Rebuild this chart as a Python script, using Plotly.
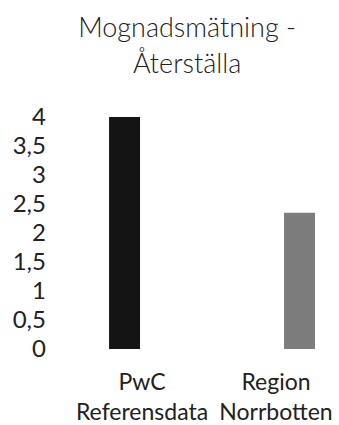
import plotly.graph_objects as go

categories = ["PwC<br>Referensdata", "Region<br>Norrbotten"]
values = [4.0, 2.35]
bar_colors = ["#141414", "#7c7c7c"]
tick_vals = [0, 0.5, 1, 1.5, 2, 2.5, 3, 3.5, 4]
tick_text = ["0", "0,5", "1", "1,5", "2", "2,5", "3", "3,5", "4"]
title_text = "Mognadsmätning -<br>Återställa"

FONT = "Lato"

fig = go.Figure(
    go.Bar(
        x=categories,
        y=values,
        marker=dict(color=bar_colors, line=dict(width=0)),
        width=[0.231, 0.231],
        offset=[-0.246, 0.06],
        showlegend=False,
        hoverinfo="skip",
    )
)

fig.update_layout(
    width=339,
    height=425,
    margin=dict(l=52, r=7, t=117, b=76),
    paper_bgcolor="white",
    plot_bgcolor="white",
    separators=",.",
    title=dict(
        text=title_text,
        x=0.552,
        xanchor="center",
        y=0.912,
        yanchor="top",
        font=dict(family=FONT, size=27, color="#222222", weight=300),
    ),
    xaxis=dict(
        range=[-0.672, 1.418],
        showgrid=False,
        showline=False,
        zeroline=False,
        ticks="",
        automargin=False,
        ticklabelstandoff=17,
        tickfont=dict(family=FONT, size=23, color="#222222"),
    ),
    yaxis=dict(
        range=[0, 4],
        tickvals=tick_vals,
        ticktext=tick_text,
        showgrid=False,
        showline=False,
        zeroline=False,
        ticks="",
        automargin=False,
        ticklabelstandoff=5,
        tickfont=dict(family=FONT, size=24, color="#222222"),
    ),
)

fig.write_html("out.html")
